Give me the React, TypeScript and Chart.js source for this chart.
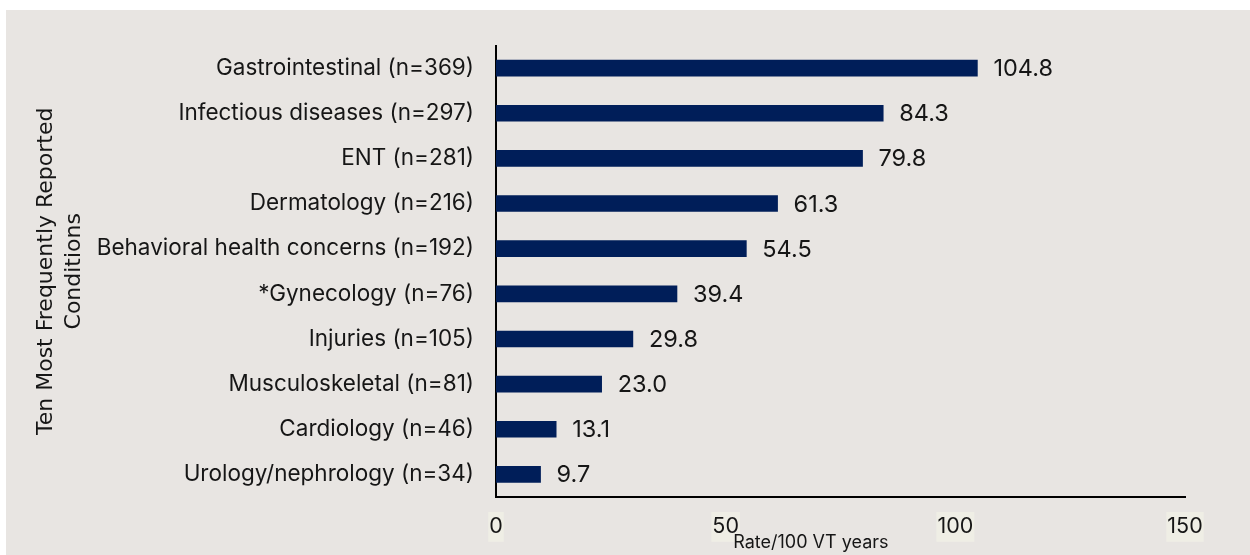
import React, { useEffect, useRef } from 'react';
import { Chart, registerables } from 'chart.js';

Chart.register(...registerables);

const categories = [
  'Gastrointestinal (n=369)',
  'Infectious diseases (n=297)',
  'ENT (n=281)',
  'Dermatology (n=216)',
  'Behavioral health concerns (n=192)',
  '*Gynecology (n=76)',
  'Injuries (n=105)',
  'Musculoskeletal (n=81)',
  'Cardiology (n=46)',
  'Urology/nephrology (n=34)',
];
const rates = [104.8, 84.3, 79.8, 61.3, 54.5, 39.4, 29.8, 23.0, 13.1, 9.7];
const xTickValues = [0, 50, 100, 150];
const yTitleLines = ['Ten Most Frequently Reported', 'Conditions'];
const xTitleText = 'Rate/100 VT years';

const LABEL_FONT = 'Inter';
const TEXT_COLOR = '#161616';
const BAR_COLOR = '#001e59';
const PANEL_BG = '#e8e5e2';

const valueLabels = {
  id: 'valueLabels',
  afterDatasetsDraw(chart: any) {
    const ctx = chart.ctx;
    const meta = chart.getDatasetMeta(0);
    ctx.save();
    ctx.font = `23.5px ${LABEL_FONT}`;
    ctx.fillStyle = TEXT_COLOR;
    ctx.textAlign = 'left';
    ctx.textBaseline = 'middle';
    meta.data.forEach((bar: any, i: number) => {
      ctx.fillText(rates[i].toFixed(1), bar.x + 16, bar.y + 1);
    });
    ctx.restore();
  },
};

const xTitlePlugin = {
  id: 'xTitlePlugin',
  afterDraw(chart: any) {
    const ctx = chart.ctx;
    const { left, right } = chart.chartArea;
    const xs = chart.scales.x;
    ctx.save();
    ctx.font = `18px ${LABEL_FONT}`;
    ctx.fillStyle = TEXT_COLOR;
    ctx.textAlign = 'center';
    ctx.textBaseline = 'middle';
    ctx.fillText(xTitleText, left + (right - left) * 0.457, xs.bottom - 12);
    ctx.restore();
  },
};

export default function App() {
  const canvasRef = useRef<HTMLCanvasElement | null>(null);

  useEffect(() => {
    if (!canvasRef.current) return;
    const chart = new Chart(canvasRef.current, {
      type: 'bar',
      data: {
        labels: categories,
        datasets: [
          {
            data: rates,
            backgroundColor: BAR_COLOR,
            barThickness: 16,
          },
        ],
      },
      options: {
        indexAxis: 'y',
        responsive: false,
        animation: false,
        layout: { padding: { top: 34, right: 65, bottom: 0, left: 0 } },
        plugins: {
          legend: { display: false },
          tooltip: { enabled: false },
        },
        scales: {
          x: {
            type: 'linear',
            min: 0,
            max: 150,
            afterBuildTicks: (scale: any) => {
              scale.ticks = xTickValues.map((v) => ({ value: v }));
            },
            afterFit: (scale: any) => {
              scale.height = 58;
            },
            grid: { display: false, drawTicks: false },
            border: { display: true, color: '#000', width: 2 },
            ticks: {
              padding: 17,
              color: TEXT_COLOR,
              font: { family: LABEL_FONT, size: 21.5 },
              showLabelBackdrop: true,
              backdropColor: '#efeee5',
              backdropPadding: { x: 1, y: 2 },
            },
            title: { display: false },
          },
          y: {
            afterFit: (scale: any) => {
              scale.width = 490;
            },
            grid: { display: false, drawTicks: false },
            border: { display: true, color: '#000', width: 2 },
            ticks: {
              padding: 22,
              color: TEXT_COLOR,
              font: { family: LABEL_FONT, size: 22.5 },
            },
            title: {
              display: true,
              text: yTitleLines,
              color: TEXT_COLOR,
              font: { family: 'DejaVu Sans', size: 22, lineHeight: 1.27 },
              padding: { top: 26, bottom: 0 },
            },
          },
        },
      },
      plugins: [valueLabels, xTitlePlugin],
    });
    return () => chart.destroy();
  }, []);

  return (
    <div
      style={{
        position: 'absolute',
        left: 6,
        top: 10,
        width: 1244,
        height: 545,
        background: PANEL_BG,
      }}
    >
      <canvas ref={canvasRef} width={1244} height={545} style={{ display: 'block' }} />
    </div>
  );
}
